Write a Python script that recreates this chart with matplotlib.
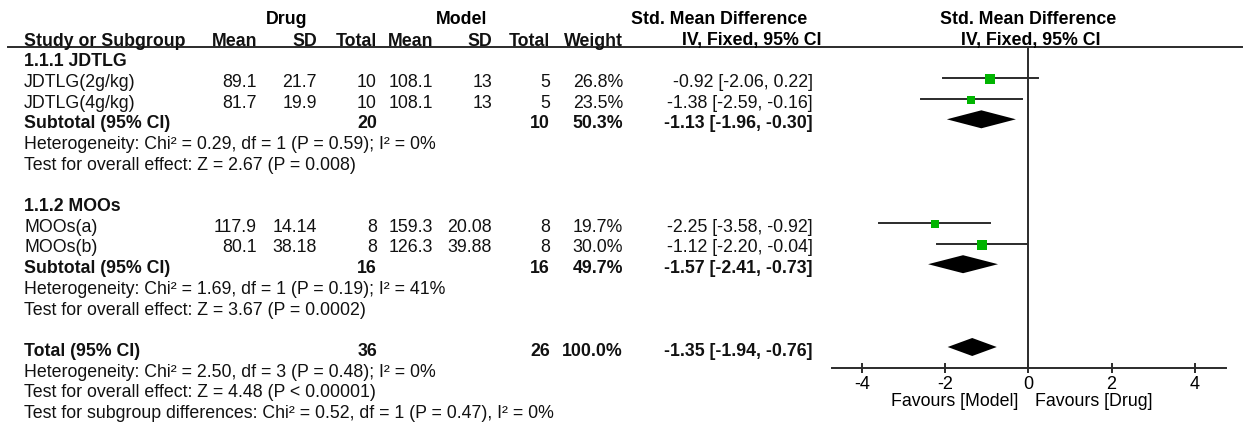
import matplotlib
matplotlib.use("Agg")
import matplotlib.pyplot as plt
from matplotlib.patches import Polygon

plt.rcParams['font.family'] = ['Liberation Sans', 'DejaVu Sans']

# study level data
studies = ['JDTLG(2g/kg)', 'JDTLG(4g/kg)', 'MOOs(a)', 'MOOs(b)']
drug_mean = [89.1, 81.7, 117.9, 80.1]
drug_sd = [21.7, 19.9, 14.14, 38.18]
drug_n = [10, 10, 8, 8]
model_mean = [108.1, 108.1, 159.3, 126.3]
model_sd = [13, 13, 20.08, 39.88]
model_n = [5, 5, 8, 8]
weights = [26.8, 23.5, 19.7, 30.0]
smd = [-0.92, -1.38, -2.25, -1.12]
ci_lo = [-2.06, -2.59, -3.58, -2.20]
ci_hi = [0.22, -0.16, -0.92, -0.04]

# subgroups
groups = ['1.1.1 JDTLG', '1.1.2 MOOs']
group_members = [[0, 1], [2, 3]]
sub_drug_n = [20, 16]
sub_model_n = [10, 16]
sub_weight = [50.3, 49.7]
sub_smd = [-1.13, -1.57]
sub_lo = [-1.96, -2.41]
sub_hi = [-0.30, -0.73]
sub_het = ['Heterogeneity: Chi² = 0.29, df = 1 (P = 0.59); I² = 0%',
           'Heterogeneity: Chi² = 1.69, df = 1 (P = 0.19); I² = 41%']
sub_eff = ['Test for overall effect: Z = 2.67 (P = 0.008)',
           'Test for overall effect: Z = 3.67 (P = 0.0002)']

# overall
tot_drug_n = 36
tot_model_n = 26
tot_weight = 100.0
tot_smd = -1.35
tot_lo = -1.94
tot_hi = -0.76
tot_notes = ['Heterogeneity: Chi² = 2.50, df = 3 (P = 0.48); I² = 0%',
             'Test for overall effect: Z = 4.48 (P < 0.00001)',
             'Test for subgroup differences: Chi² = 0.52, df = 1 (P = 0.47), I² = 0%']

W, H = 1248, 424
FS = 12.8
ROW0, DROW = 41, 20.7
green = '#00b400'
dark = '#2b2b2b'

# column right edges (pixels)
X_NAME = 24
X_DMEAN, X_DSD, X_DN = 257, 317, 377
X_MMEAN, X_MSD, X_MN = 433, 492, 550
X_W, X_CI = 623, 813

fig = plt.figure(figsize=(W / 100, H / 100), dpi=100)
tab = fig.add_axes([0, 0, 1, 1])
tab.set_xlim(0, W)
tab.set_ylim(H, 0)
tab.axis('off')

ax = fig.add_axes([832 / W, (H - 368) / H, (1226 - 832) / W, (368 - 47) / H])
ax.set_xlim(-4.72, 4.75)
ax.set_ylim(368, 47)
ax.patch.set_alpha(0)


def ypos(r):
    return ROW0 + DROW * r


def txt(x, r, s, ha='right', bold=False):
    tab.text(x, ypos(r), s, ha=ha, va='center', fontsize=FS,
             fontweight='bold' if bold else 'normal', color='#111111')


def ci_str(m, lo, hi):
    return f"{m:.2f} [{lo:.2f}, {hi:.2f}]"


def diamond(m, lo, hi, r):
    y = ypos(r) - 4.5
    ax.add_patch(Polygon([[lo, y], [m, y - 9], [hi, y], [m, y + 9]],
                         closed=True, color='black', lw=0))


# headers
tab.text(287, 20, 'Drug', ha='center', va='center', fontsize=FS, fontweight='bold')
tab.text(462, 20, 'Model', ha='center', va='center', fontsize=FS, fontweight='bold')
tab.text(719, 20, 'Std. Mean Difference', ha='center', va='center', fontsize=FS, fontweight='bold')
tab.text(752, 41, 'IV, Fixed, 95% CI', ha='center', va='center', fontsize=FS, fontweight='bold')
tab.text(1028, 20, 'Std. Mean Difference', ha='center', va='center', fontsize=FS, fontweight='bold')
tab.text(1031, 41, 'IV, Fixed, 95% CI', ha='center', va='center', fontsize=FS, fontweight='bold')
txt(X_NAME, 0, 'Study or Subgroup', ha='left', bold=True)
for x, s in [(X_DMEAN, 'Mean'), (X_DSD, 'SD'), (X_DN, 'Total'), (X_MMEAN, 'Mean'),
             (X_MSD, 'SD'), (X_MN, 'Total'), (X_W, 'Weight')]:
    txt(x, 0, s, bold=True)
tab.plot([8, 1242], [47, 47], color=dark, lw=1.4)

r = 1
for g, name in enumerate(groups):
    txt(X_NAME, r, name, ha='left', bold=True)
    r += 1
    for i in group_members[g]:
        txt(X_NAME, r, studies[i], ha='left')
        txt(X_DMEAN, r, f"{drug_mean[i]:g}")
        txt(X_DSD, r, f"{drug_sd[i]:g}")
        txt(X_DN, r, str(drug_n[i]))
        txt(X_MMEAN, r, f"{model_mean[i]:g}")
        txt(X_MSD, r, f"{model_sd[i]:g}")
        txt(X_MN, r, str(model_n[i]))
        txt(X_W, r, f"{weights[i]:.1f}%")
        txt(X_CI, r, ci_str(smd[i], ci_lo[i], ci_hi[i]))
        y = ypos(r) - 4.5
        ax.plot([ci_lo[i], ci_hi[i]], [y, y], color=dark, lw=1.4, zorder=2)
        ax.plot(smd[i], y + 1, marker='s', color=green,
                markersize=(0.3 * weights[i] + 1.5) * 0.72, mew=0, zorder=3)
        r += 1
    txt(X_NAME, r, 'Subtotal (95% CI)', ha='left', bold=True)
    txt(X_DN, r, str(sub_drug_n[g]), bold=True)
    txt(X_MN, r, str(sub_model_n[g]), bold=True)
    txt(X_W, r, f"{sub_weight[g]:.1f}%", bold=True)
    txt(X_CI, r, ci_str(sub_smd[g], sub_lo[g], sub_hi[g]), bold=True)
    diamond(sub_smd[g], sub_lo[g], sub_hi[g], r)
    r += 1
    txt(X_NAME, r, sub_het[g], ha='left')
    r += 1
    txt(X_NAME, r, sub_eff[g], ha='left')
    r += 2

txt(X_NAME, r, 'Total (95% CI)', ha='left', bold=True)
txt(X_DN, r, str(tot_drug_n), bold=True)
txt(X_MN, r, str(tot_model_n), bold=True)
txt(X_W, r, f"{tot_weight:.1f}%", bold=True)
txt(X_CI, r, ci_str(tot_smd, tot_lo, tot_hi), bold=True)
diamond(tot_smd, tot_lo, tot_hi, r)
for note in tot_notes:
    r += 1
    txt(X_NAME, r, note, ha='left')

# forest axis
ax.axvline(0, color=dark, lw=1.4, zorder=1)
for side in ['top', 'left', 'right']:
    ax.spines[side].set_visible(False)
ax.spines['bottom'].set_color(dark)
ax.spines['bottom'].set_linewidth(1.4)
ax.set_yticks([])
ax.set_xticks([-4, -2, 0, 2, 4])
ax.set_xticklabels(['-4', '-2', '0', '2', '4'])
ax.tick_params(axis='x', direction='inout', length=7, width=1.4, color=dark,
               labelsize=13, pad=2)
tab.text(1018, 402, 'Favours [Model]', ha='right', va='center', fontsize=FS)
tab.text(1035, 402, 'Favours [Drug]', ha='left', va='center', fontsize=FS)

fig.savefig('out.png', dpi=100)
